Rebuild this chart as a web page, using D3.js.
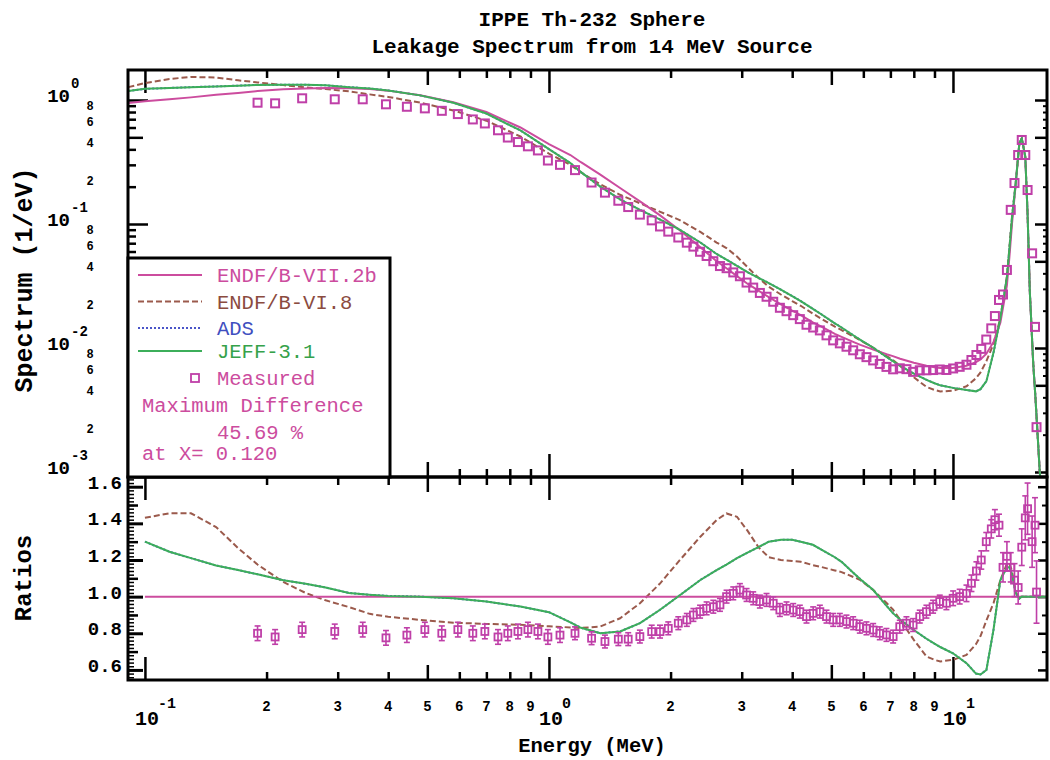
<!DOCTYPE html>
<html><head><meta charset="utf-8">
<script src="https://cdn.jsdelivr.net/npm/d3@7"></script>
<style>body{margin:0;background:#fff}svg{display:block}text{font-family:"Liberation Mono","DejaVu Sans Mono",monospace}</style>
</head><body><svg id="c" width="1050" height="760"></svg>
<script>
// ---------------- DATA ----------------
const energyGrid = [0.091,0.1,0.115,0.13,0.15,0.17,0.19,0.22,0.25,0.28,0.32,0.36,0.4,0.48,0.58,0.7,0.85,1.0,1.13,1.2,1.34,1.5,1.68,1.88,2.1,2.37,2.6,2.75,2.92,3.1,3.3,3.5,3.75,4.0,4.2,4.5,4.7,5.1,5.3,5.7,5.9,6.35,6.85,7.1,7.4,8.0,8.6,9.0,9.3,10.0,10.8,11.4,11.7,12.1,12.6,13.1,13.6,13.8,14.0,14.3,14.6,14.8,15.1,15.3,15.5,15.8,16.0,16.4,17.1];
const specVII2b = [0.945,0.975,1.015,1.05,1.10,1.14,1.18,1.22,1.24,1.25,1.245,1.225,1.19,1.09,0.96,0.80,0.60,0.44,0.36,0.315,0.25,0.195,0.152,0.118,0.090,0.065,0.050,0.044,0.038,0.033,0.029,0.0257,0.0225,0.0200,0.0184,0.0161,0.0150,0.0130,0.0123,0.0111,0.0106,0.0097,0.0089,0.0086,0.0082,0.0076,0.0072,0.0070,0.0069,0.0069,0.0072,0.0077,0.0081,0.0090,0.0112,0.0160,0.032,0.055,0.10,0.21,0.45,0.49,0.35,0.12,0.028,0.0075,0.0040,0.0010,0.0002];
const specVI8 = [1.27,1.37,1.477,1.535,1.518,1.442,1.387,1.318,1.265,1.225,1.174,1.110,1.059,0.952,0.824,0.681,0.508,0.369,0.300,0.261,0.209,0.172,0.147,0.126,0.108,0.0863,0.0709,0.0640,0.0546,0.0449,0.0368,0.0312,0.0270,0.0239,0.0219,0.0189,0.0174,0.01486,0.01395,0.01227,0.01155,0.01005,0.00859,0.0080,0.00716,0.00581,0.00485,0.00459,0.00446,0.00452,0.00491,0.0057,0.00636,0.00783,0.0108,0.0174,0.0378,0.065,0.114,0.214,0.45,0.49,0.35,0.12,0.028,0.0075,0.0040,0.0010,0.0002];
const specADS = [1.18,1.23,1.25,1.27,1.287,1.305,1.324,1.330,1.327,1.313,1.270,1.237,1.195,1.09,0.951,0.778,0.568,0.402,0.310,0.262,0.200,0.158,0.130,0.109,0.0905,0.0709,0.0573,0.0517,0.0460,0.0409,0.0368,0.0334,0.0295,0.0262,0.0239,0.0207,0.0189,0.0158,0.01464,0.01249,0.01161,0.01005,0.00846,0.00783,0.00718,0.00622,0.00554,0.0052,0.0050,0.00477,0.00459,0.00447,0.00466,0.0054,0.00918,0.0174,0.0371,0.064,0.112,0.214,0.45,0.49,0.35,0.12,0.028,0.0075,0.0040,0.0010,0.0002];
const specJEFF = [1.18,1.23,1.25,1.27,1.287,1.305,1.324,1.330,1.327,1.313,1.270,1.237,1.195,1.09,0.951,0.778,0.568,0.402,0.310,0.262,0.200,0.158,0.130,0.109,0.0905,0.0709,0.0573,0.0517,0.0460,0.0409,0.0368,0.0334,0.0295,0.0262,0.0239,0.0207,0.0189,0.0158,0.01464,0.01249,0.01161,0.01005,0.00846,0.00783,0.00718,0.00622,0.00554,0.0052,0.0050,0.00477,0.00459,0.00447,0.00466,0.0054,0.00918,0.0174,0.0371,0.064,0.112,0.214,0.45,0.49,0.35,0.12,0.028,0.0075,0.0040,0.0010,0.0002];
const ratioVII2b = [null,1,1,1,1,1,1,1,1,1,1,1,1,1,1,1,1,1,1,1,1,1,1,1,1,1,1,1,1,1,1,1,1,1,1,1,1,1,1,1,1,1,1,1,1,1,1,1,1,1,1,1,1,1,1,1,1,1,1,1,1,1,1,1,1,1,1,1,1];
const ratioVI8 = [null,1.43,1.455,1.455,1.38,1.265,1.175,1.08,1.02,0.98,0.943,0.906,0.89,0.873,0.858,0.851,0.846,0.838,0.832,0.829,0.837,0.882,0.964,1.07,1.195,1.327,1.418,1.454,1.436,1.36,1.27,1.215,1.2,1.195,1.19,1.172,1.163,1.143,1.134,1.105,1.09,1.036,0.965,0.93,0.873,0.764,0.673,0.655,0.646,0.655,0.682,0.74,0.785,0.87,0.965,1.09,1.18,1.18,1.14,1.02,1.0,1.0,1.0,1.0,1.0,1.0,1.0,1.0,1.0];
const ratioADS = [null,1.30,1.245,1.21,1.17,1.145,1.122,1.09,1.07,1.05,1.02,1.01,1.004,1.0,0.991,0.973,0.946,0.915,0.86,0.83,0.80,0.81,0.855,0.927,1.005,1.091,1.145,1.175,1.21,1.24,1.27,1.30,1.31,1.31,1.30,1.283,1.26,1.215,1.19,1.125,1.095,1.036,0.95,0.91,0.875,0.818,0.77,0.743,0.725,0.691,0.637,0.58,0.575,0.60,0.82,1.09,1.16,1.16,1.12,1.02,0.99,1.0,1.0,1.0,1.0,1.0,1.0,1.0,1.0];
const ratioJEFF = [null,1.30,1.245,1.21,1.17,1.145,1.122,1.09,1.07,1.05,1.02,1.01,1.004,1.0,0.991,0.973,0.946,0.915,0.86,0.83,0.80,0.81,0.855,0.927,1.005,1.091,1.145,1.175,1.21,1.24,1.27,1.30,1.31,1.31,1.30,1.283,1.26,1.215,1.19,1.125,1.095,1.036,0.95,0.91,0.875,0.818,0.77,0.743,0.725,0.691,0.637,0.58,0.575,0.60,0.82,1.09,1.16,1.16,1.12,1.02,0.99,1.0,1.0,1.0,1.0,1.0,1.0,1.0,1.0];

const measEnergy = [0.190,0.210,0.245,0.295,0.346,0.395,0.445,0.493,0.543,0.595,0.648,0.694,0.748,0.791,0.838,0.887,0.939,0.994,1.065,
1.160,1.275,1.376,1.485,1.571,1.679,1.796,1.883,1.974,2.090,
2.194,2.278,2.366,2.456,2.552,2.650,2.752,2.859,2.969,3.084,
3.203,3.327,3.456,3.590,3.729,3.873,4.023,4.178,4.340,4.508,
4.683,4.864,5.052,5.248,5.451,5.662,5.881,6.108,6.345,6.590,
6.845,7.110,7.385,7.671,7.968,8.276,8.596,8.929,9.274,9.633,
10.01,10.39,10.80,11.11,11.43,11.75,12.09,12.44,12.70,13.00,
13.30,13.60,13.90,14.20,14.50,14.80,15.10,15.30,15.70,15.96,16.10];
const measSpectrum = [0.951,0.940,1.032,1.013,1.013,0.923,0.882,0.856,0.818,0.770,0.697,0.647,0.570,0.498,0.458,0.423,0.392,0.325,0.300,
0.272,0.216,0.179,0.154,0.137,0.119,0.107,0.0955,0.0868,0.0778,
0.0707,0.0657,0.0597,0.0552,0.0501,0.0458,0.0440,0.0407,0.0379,0.0337,
0.0307,0.0278,0.0259,0.0236,0.0211,0.0198,0.0184,0.0171,0.0154,0.01463,
0.01386,0.01265,0.01152,0.01090,0.01024,0.00958,0.00890,0.00844,0.00794,0.00744,
0.00704,0.00673,0.00686,0.00675,0.00642,0.00661,0.00661,0.00664,0.00671,0.00665,
0.00684,0.00705,0.00733,0.0080,0.00878,0.00984,0.0117,0.0144,0.0181,0.0244,
0.027,0.0426,0.130,0.214,0.36,0.476,0.36,0.188,0.058,0.0148,0.0023];
const measRatio = [0.80,0.78,0.82,0.81,0.82,0.775,0.79,0.82,0.80,0.82,0.80,0.81,0.78,0.80,0.81,0.82,0.81,0.78,0.79,
0.80,0.773,0.755,0.768,0.768,0.782,0.809,0.809,0.827,0.855,
0.873,0.90,0.918,0.936,0.945,0.955,1.0,1.018,1.036,1.009,
0.991,0.973,0.982,0.964,0.927,0.936,0.927,0.918,0.891,0.909,
0.918,0.891,0.873,0.873,0.864,0.855,0.836,0.827,0.818,0.80,
0.791,0.782,0.836,0.855,0.845,0.891,0.918,0.945,0.973,0.964,
0.991,1.0,1.018,1.073,1.14,1.20,1.30,1.37,1.42,1.39,
1.16,1.22,1.16,1.09,1.05,1.27,1.43,1.48,1.30,1.39,1.025];
const measError = [0.04,0.04,0.04,0.04,0.04,0.04,0.04,0.04,0.04,0.04,0.04,0.04,0.04,0.04,0.04,0.04,0.04,0.04,0.04,
0.035,0.035,0.035,0.035,0.035,0.035,0.035,0.035,0.035,0.035,
0.035,0.035,0.035,0.035,0.035,0.035,0.035,0.035,0.035,0.035,
0.035,0.035,0.035,0.035,0.035,0.035,0.035,0.035,0.035,0.035,
0.035,0.035,0.035,0.035,0.035,0.035,0.035,0.035,0.035,0.035,
0.035,0.035,0.035,0.035,0.035,0.035,0.035,0.035,0.035,0.035,
0.04,0.04,0.045,0.045,0.05,0.05,0.05,0.05,0.055,0.06,
0.08,0.08,0.08,0.09,0.09,0.10,0.12,0.14,0.14,0.15,0.17];

const seriesNames = ["ENDF/B-VII.2b","ENDF/B-VI.8","ADS","JEFF-3.1","Measured"];
const titleLines = ["IPPE Th-232 Sphere","Leakage Spectrum from 14 MeV Source"];
const noteLines = ["Maximum Difference","45.69 %","at X= 0.120"];
const xDecades = [0.1,1,10];
const xDecadeExp = ["-1","0","1"];
const xMinor = [0.2,0.3,0.4,0.5,0.6,0.7,0.8,0.9,2,3,4,5,6,7,8,9];
const xMinorLabels = ["2","3","4","5","6","7","8","9","2","3","4","5","6","7","8","9"];
const yDecades = [1,0.1,0.01,0.001];
const yDecadeExp = ["0","-1","-2","-3"];
const yMinorLabelVals = [0.8,0.6,0.4,0.2,0.08,0.06,0.04,0.02,0.008,0.006,0.004,0.002];
const yMinorLabels = ["8","6","4","2","8","6","4","2","8","6","4","2"];
const ratioTicks = [0.6,0.8,1.0,1.2,1.4,1.6];
const ratioTickLabels = ["0.6","0.8","1.0","1.2","1.4","1.6"];

// ---------------- LAYOUT ----------------
const L=128, R=1047, T=70, MID=477, B=680;
const C = {vii:"#cc4c9e", vi:"#9b5a4c", ads:"#4a55c8", jeff:"#3cae5a", meas:"#bf3fa8"};
const svg = d3.select("#c");
const x = d3.scaleLog().domain([0.0908,17.09]).range([L,R]);
const yS = d3.scaleLog().domain([Math.pow(10,-377/124), Math.pow(10,30/124)]).range([MID,T]);
const yR = d3.scaleLinear().domain([0.545,1.653]).range([B,MID]);

const defs = svg.append("defs");
defs.append("clipPath").attr("id","cpTop").append("rect").attr("x",L).attr("y",T).attr("width",R-L).attr("height",MID-T);
defs.append("clipPath").attr("id","cpBot").append("rect").attr("x",L).attr("y",MID).attr("width",R-L).attr("height",B-MID);

function ticks(axisFn, scale, vals, size, tr, sw){
  svg.append("g").attr("transform",tr)
    .call(axisFn(scale).tickValues(vals).tickSize(size).tickFormat(""))
    .call(g=>g.select(".domain").remove())
    .selectAll("line").attr("stroke","#000").attr("stroke-width",sw||2.5);
}
const xMaj=[0.1,1,10], xMed=[0.5,5], xMin=[0.2,0.3,0.4,0.6,0.7,0.8,0.9,2,3,4,6,7,8,9];
[[d3.axisTop,`translate(0,${T})`],[d3.axisBottom,`translate(0,${MID})`],[d3.axisTop,`translate(0,${MID})`],[d3.axisBottom,`translate(0,${B})`]].forEach(([f,tr])=>{
  ticks(f,x,xMaj,-23,tr); ticks(f,x,xMed,-15,tr); ticks(f,x,xMin,-8,tr);
});
const ySMaj=[1,0.1,0.01,0.001], ySMed=[0.5,0.05,0.005];
const ySMin=[]; [1,0.1,0.01].forEach(d=>[2,3,4,6,7,8,9].forEach(m=>ySMin.push(m*d/10)));
ticks(d3.axisLeft,yS,ySMaj,-20,`translate(${L},0)`);
ticks(d3.axisLeft,yS,ySMed,-15,`translate(${L},0)`);
ticks(d3.axisLeft,yS,ySMin,-8,`translate(${L},0)`);
ticks(d3.axisRight,yS,ySMaj.concat(ySMed),-12,`translate(${R},0)`);
ticks(d3.axisRight,yS,ySMin,-4,`translate(${R},0)`,2);
const rMin=d3.range(28,83).map(i=>+(i*0.02).toFixed(2));
const rMed=[0.7,0.9,1.1,1.3,1.5];
ticks(d3.axisLeft,yR,rMin,-6,`translate(${L},0)`,1.5);
ticks(d3.axisLeft,yR,rMed,-10,`translate(${L},0)`);
ticks(d3.axisLeft,yR,ratioTicks,-15,`translate(${L},0)`,3);
ticks(d3.axisRight,yR,ratioTicks,-9,`translate(${R},0)`,2.5);
ticks(d3.axisRight,yR,rMed,-5,`translate(${R},0)`,2);

// ---------------- CURVES ----------------
const gTop = svg.append("g").attr("clip-path","url(#cpTop)");
const gBot = svg.append("g").attr("clip-path","url(#cpBot)");
const lineTop = d3.line().x(d=>x(d[0])).y(d=>yS(d[1])).defined(d=>d[1]!=null);
const lineBot = d3.line().x(d=>x(d[0])).y(d=>yR(d[1])).defined(d=>d[1]!=null);
const curves = [
  {spec:specADS, ratio:ratioADS, color:C.ads, dash:"2,2", w:2},
  {spec:specVI8, ratio:ratioVI8, color:C.vi, dash:"6,3", w:2},
  {spec:specVII2b, ratio:ratioVII2b, color:C.vii, dash:null, w:2},
  {spec:specJEFF, ratio:ratioJEFF, color:C.jeff, dash:null, w:2}
];
curves.forEach(c=>{
  gTop.append("path").attr("d",lineTop(energyGrid.map((e,i)=>[e,c.spec[i]])))
    .attr("fill","none").attr("stroke",c.color).attr("stroke-width",c.w).attr("stroke-dasharray",c.dash);
  gBot.append("path").attr("d",lineBot(energyGrid.map((e,i)=>[e,c.ratio[i]])))
    .attr("fill","none").attr("stroke",c.color).attr("stroke-width",c.w).attr("stroke-dasharray",c.dash);
});
gTop.selectAll("rect.m").data(measEnergy).join("rect")
  .attr("x",d=>x(d)-4).attr("y",(d,i)=>yS(measSpectrum[i])-4).attr("width",8).attr("height",8)
  .attr("fill","none").attr("stroke",C.meas).attr("stroke-width",2);
const gm = gBot.selectAll("g.m").data(measEnergy).join("g");
gm.append("line").attr("x1",d=>x(d)).attr("x2",d=>x(d))
  .attr("y1",(d,i)=>yR(measRatio[i]-measError[i])).attr("y2",(d,i)=>yR(measRatio[i]+measError[i]))
  .attr("stroke",C.meas).attr("stroke-width",1.6);
[-1,1].forEach(s=>gm.append("line").attr("x1",d=>x(d)-3).attr("x2",d=>x(d)+3)
  .attr("y1",(d,i)=>yR(measRatio[i]+s*measError[i])).attr("y2",(d,i)=>yR(measRatio[i]+s*measError[i]))
  .attr("stroke",C.meas).attr("stroke-width",1.6));
gm.append("rect").attr("x",d=>x(d)-3.5).attr("y",(d,i)=>yR(measRatio[i])-3.5).attr("width",7).attr("height",7)
  .attr("fill","none").attr("stroke",C.meas).attr("stroke-width",1.8);

// ---------------- FRAMES ----------------
svg.append("rect").attr("x",L).attr("y",T).attr("width",R-L).attr("height",MID-T).attr("fill","none").attr("stroke","#000").attr("stroke-width",3);
svg.append("rect").attr("x",L).attr("y",MID).attr("width",R-L).attr("height",B-MID).attr("fill","none").attr("stroke","#000").attr("stroke-width",3);

// ---------------- LEGEND ----------------
svg.append("rect").attr("x",L).attr("y",258).attr("width",390-L).attr("height",MID-258).attr("fill","#fff").attr("stroke","#000").attr("stroke-width",3);
const rowY=[275,301.5,328,351,378,405,431.5,453];
const legCols=[C.vii,"#8b4b3f","#3f4fbf","#36a24a",C.vii];
const legOrder=[curves[2],curves[1],curves[0],curves[3]];
legOrder.forEach((c,i)=>{
  svg.append("line").attr("x1",138).attr("x2",202).attr("y1",rowY[i]).attr("y2",rowY[i])
    .attr("stroke",c.color).attr("stroke-width",2).attr("stroke-dasharray",c.dash);
});
svg.append("rect").attr("x",191).attr("y",rowY[4]-4).attr("width",8).attr("height",8).attr("fill","none").attr("stroke",C.meas).attr("stroke-width",1.8);
function txt(xp,yp,s,o){
  const t=svg.append("text").attr("x",xp).attr("y",yp).text(s)
    .attr("font-size",o.size).attr("font-weight",o.bold?"bold":"normal")
    .attr("text-anchor",o.anchor||"start").attr("fill",o.fill||"#000");
  if(o.rot) t.attr("transform",`rotate(-90,${xp},${yp})`);
  return t;
}
seriesNames.forEach((n,i)=>txt(217,rowY[i]+7,n,{size:20.5,fill:legCols[i]}));
txt(142,rowY[5]+7,noteLines[0],{size:20.5,fill:C.vii});
txt(217,rowY[6]+7,noteLines[1],{size:20.5,fill:C.vii});
txt(142,rowY[7]+7,noteLines[2],{size:20.5,fill:C.vii});

// ---------------- TEXT ----------------
txt(592,26,titleLines[0],{size:21,bold:true,anchor:"middle"});
txt(592,53,titleLines[1],{size:21,bold:true,anchor:"middle"});
txt(32,280,"Spectrum (1/eV)",{size:25,bold:true,anchor:"middle",rot:true});
txt(31,578,"Ratios",{size:24,bold:true,anchor:"middle",rot:true});
txt(592,752,"Energy (MeV)",{size:20.5,bold:true,anchor:"middle"});
yDecades.forEach((v,i)=>{
  txt(70,yS(v)+2,"10",{size:19,bold:true,anchor:"end"});
  txt(71,yS(v)-12,yDecadeExp[i],{size:14,bold:true});
});
yMinorLabelVals.forEach((v,i)=>txt(90,yS(v)-2,yMinorLabels[i],{size:12,bold:true,anchor:"middle"}));
xDecades.forEach((v,i)=>{
  txt(x(v)+2,725,"10",{size:20,bold:true,anchor:"middle"});
  txt(x(v)+13,708,xDecadeExp[i],{size:15,bold:true});
});
xMinor.forEach((v,i)=>txt(x(v),711,xMinorLabels[i],{size:14,bold:true,anchor:"middle"}));
ratioTicks.forEach((v,i)=>txt(122,yR(v)+2,ratioTickLabels[i],{size:19,bold:true,anchor:"end"}));
</script></body></html>
